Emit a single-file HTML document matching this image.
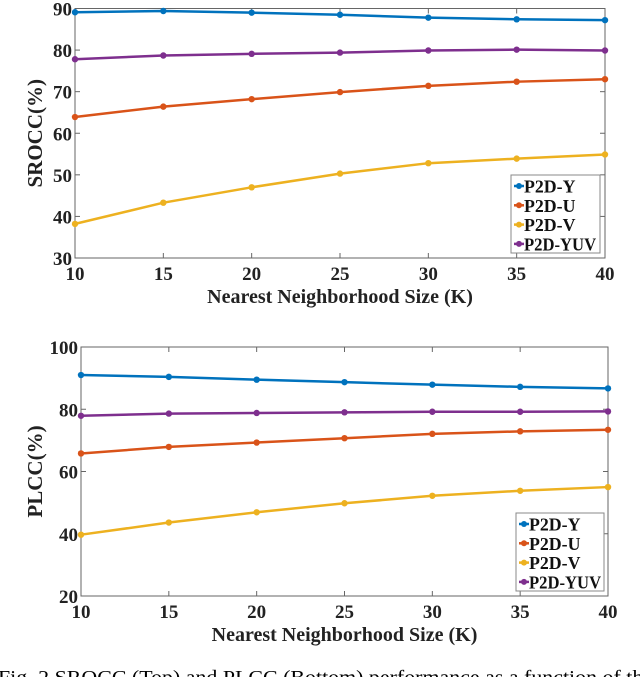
<!DOCTYPE html>
<html><head><meta charset="utf-8"><style>
body{margin:0;background:#fff;width:640px;height:677px;overflow:hidden}
svg{font-family:"Liberation Serif",serif}
</style></head><body>
<svg id="s" width="640" height="677" xmlns="http://www.w3.org/2000/svg">
<text x="-2" y="684" font-size="19.5" textLength="655" lengthAdjust="spacingAndGlyphs">Fig. 2 SROCC (Top) and PLCC (Bottom) performance as a function of the</text>
</svg>
<script>
const categories=[10,15,20,25,30,35,40];
const seriesNames=["P2D-Y","P2D-U","P2D-V","P2D-YUV"];
const colors=["#0072BD","#D95319","#EDB120","#7E2F8E"];
const srocc_Y=[89.1,89.4,89.0,88.5,87.8,87.4,87.2];
const srocc_U=[63.9,66.4,68.2,69.9,71.4,72.4,73.0];
const srocc_V=[38.2,43.3,47.0,50.3,52.8,53.9,54.9];
const srocc_YUV=[77.8,78.7,79.1,79.4,79.9,80.1,79.9];
const plcc_Y=[91.0,90.4,89.5,88.7,87.9,87.2,86.7];
const plcc_U=[65.8,67.9,69.3,70.7,72.1,72.9,73.4];
const plcc_V=[39.7,43.6,46.9,49.8,52.2,53.8,55.0];
const plcc_YUV=[77.9,78.6,78.8,79.0,79.2,79.2,79.3];
const sroccTicks=[30,40,50,60,70,80,90];
const plccTicks=[20,40,60,80,100];
const NS="http://www.w3.org/2000/svg";
const svg=document.getElementById('s');
function mk(t,a,p){const e=document.createElementNS(NS,t);for(const k in a)e.setAttribute(k,a[k]);(p||svg).appendChild(e);return e;}
function chart(cfg){
  const g=mk('g',{});
  
  
  const {L,R,T,B,ymin,ymax}=cfg;
  const xs=v=>L+(v-10)/30*(R-L);
  const ys=v=>B-(v-ymin)/(ymax-ymin)*(B-T);
  const frame=mk('rect',{x:L,y:T,width:R-L,height:B-T,fill:'none',stroke:'#666','stroke-width':1},g);
  
  
  categories.forEach(c=>{
    const x=xs(c);
    mk('line',{x1:x,x2:x,y1:B,y2:B-5,stroke:'#666'},g);
    mk('line',{x1:x,x2:x,y1:T,y2:T+5,stroke:'#666'},g);
    const t=mk('text',{x:x,y:B+22,'font-size':19,'font-weight':'bold','text-anchor':'middle',fill:'#222'},g);
    t.textContent=c;
    
    
  });
  cfg.ticks.forEach(v=>{
    const y=ys(v);
    mk('line',{x1:L,x2:L+5,y1:y,y2:y,stroke:'#666'},g);
    mk('line',{x1:R,x2:R-5,y1:y,y2:y,stroke:'#666'},g);
    const t=mk('text',{x:L-3,y:y+7,'font-size':19,'font-weight':'bold','text-anchor':'end',fill:'#222'},g);
    t.textContent=v;
    
    
  });
  const yt=mk('text',{x:0,y:0,'font-size':21,'font-weight':'bold','text-anchor':'middle',fill:'#222',transform:`translate(${cfg.ytx},${(T+B)/2}) rotate(-90)`},g);
  yt.textContent=cfg.ytitle;
  
  
  const xt=mk('text',{x:(L+R)/2,y:B+45,'font-size':20,'font-weight':'bold','text-anchor':'middle',fill:'#222'},g);
  xt.textContent='Nearest Neighborhood Size (K)';
  
  
  cfg.series.forEach((d,i)=>{
    const pl=mk('polyline',{points:d.map((v,j)=>xs(categories[j])+','+ys(v)).join(' '),fill:'none',stroke:colors[i],'stroke-width':2.5},g);
    
    
    d.forEach((v,j)=>{
      const m=mk('circle',{cx:xs(categories[j]),cy:ys(v),r:3.2,fill:colors[i]},g);
      
      
    });
  });
  const lg=mk('g',{},g);
  
  
  const [lx,ly,lw,lh]=cfg.legend;
  mk('rect',{x:lx,y:ly,width:lw,height:lh,fill:'#fff',stroke:'#888'},lg);
  seriesNames.forEach((n,i)=>{
    const y=ly+11+i*19.3;
    mk('line',{x1:lx+3,x2:lx+13,y1:y,y2:y,stroke:colors[i],'stroke-width':2.5},lg);
    mk('circle',{cx:lx+8,cy:y,r:3,fill:colors[i]},lg);
    const t=mk('text',{x:lx+13,y:y+6.5,'font-size':18,'font-weight':'bold',fill:'#111',textLength:n.length*10.3,lengthAdjust:'spacingAndGlyphs'},lg);
    t.textContent=n;
    
    
  });
}
chart({name:'srocc-chart',L:75,R:605,T:8.5,B:258,ymin:30,ymax:90,ticks:sroccTicks,ytitle:'SROCC(%)',ytx:42,
  series:[srocc_Y,srocc_U,srocc_V,srocc_YUV],legend:[511,175,89,78]});
chart({name:'plcc-chart',L:81,R:608,T:347,B:596,ymin:20,ymax:100,ticks:plccTicks,ytitle:'PLCC(%)',ytx:42,
  series:[plcc_Y,plcc_U,plcc_V,plcc_YUV],legend:[516,513,88,78]});
</script>
</body></html>
